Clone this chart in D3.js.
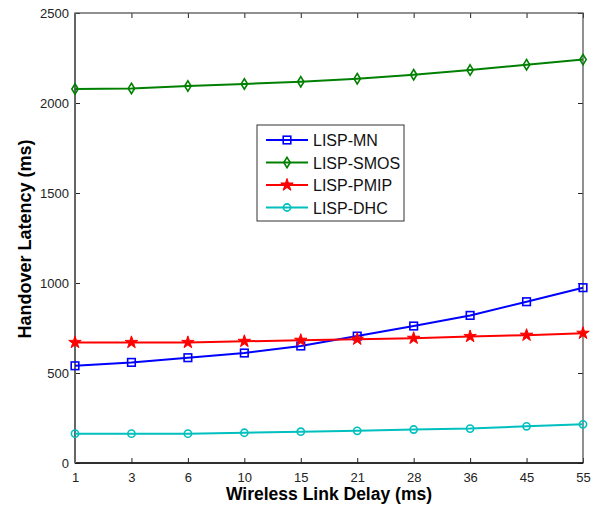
<!DOCTYPE html>
<html>
<head>
<meta charset="utf-8">
<script src="https://d3js.org/d3.v7.min.js"></script>
<style>
  body { margin: 0; background: #fff; }
  text { font-family: "Liberation Sans", Arial, sans-serif; }
</style>
</head>
<body>
<div id="chart"></div>
<script>
/** Valeurs */
var delays = ["1", "3", "6", "10", "15", "21", "28", "36", "45", "55"];
var lispMN = [540, 559, 585, 611, 650, 705, 761, 820, 896, 974];
var lispSMOS = [2078, 2081, 2094, 2106, 2118, 2135, 2157, 2183, 2213, 2241];
var lispPMIP = [670, 670, 670, 676, 682, 688, 693, 703, 710, 721];
var lispDHC = [163, 163, 163, 168, 174, 179, 186, 191, 204, 215];
var yTicks = [0, 500, 1000, 1500, 2000, 2500];

var series = [
  { name: "LISP-MN", values: lispMN, color: "#0000ff", marker: "square" },
  { name: "LISP-SMOS", values: lispSMOS, color: "#008000", marker: "diamond" },
  { name: "LISP-PMIP", values: lispPMIP, color: "#ff0000", marker: "star" },
  { name: "LISP-DHC", values: lispDHC, color: "#00bfbf", marker: "circle" }
];

var w = 611, h = 506;
var margin = { top: 13, right: 28, bottom: 43, left: 75 };
var iw = w - margin.left - margin.right;
var ih = h - margin.top - margin.bottom;

var svg = d3.select("#chart").append("svg").attr("width", w).attr("height", h);
var g = svg.append("g").attr("transform", "translate(" + margin.left + "," + margin.top + ")");

var x = d3.scalePoint().domain(delays).range([0, iw]);
var y = d3.scaleLinear().domain([0, 2500]).range([ih, 0]);

/** Axes, ticks vers l'intérieur comme MATLAB */
function styleAxis(sel) {
  sel.select(".domain").remove();
  sel.selectAll("line").attr("stroke", "#222").attr("stroke-width", 1);
  sel.selectAll("text").attr("font-size", "13px").attr("fill", "#222");
}
g.append("g").attr("transform", "translate(0," + ih + ")")
  .call(d3.axisBottom(x).tickSizeInner(-5).tickPadding(10))
  .call(styleAxis);
g.append("g").call(d3.axisTop(x).tickSizeInner(-5).tickFormat(""))
  .call(styleAxis);
g.append("g").call(d3.axisLeft(y).tickValues(yTicks).tickFormat(d3.format("d")).tickSizeInner(-5).tickPadding(6))
  .call(styleAxis);
g.append("g").attr("transform", "translate(" + iw + ",0)")
  .call(d3.axisRight(y).tickValues(yTicks).tickSizeInner(-5).tickFormat(""))
  .call(styleAxis);

// cadre
g.append("rect").attr("width", iw).attr("height", ih)
  .attr("fill", "none").attr("stroke", "#555").attr("stroke-width", 1.3);
g.append("line").attr("x1", 0).attr("x2", iw).attr("y1", ih).attr("y2", ih)
  .attr("stroke", "#111").attr("stroke-width", 1.5);
g.append("line").attr("x1", 0).attr("x2", 0).attr("y1", 0).attr("y2", ih)
  .attr("stroke", "#666").attr("stroke-width", 2);

/** Dessine un marqueur */
function drawMarker(sel, type, color) {
  if (type === "square") {
    sel.append("rect").attr("x", -3.8).attr("y", -3.8).attr("width", 7.6).attr("height", 7.6)
      .attr("fill", "none").attr("stroke", color).attr("stroke-width", 1.6);
  } else if (type === "diamond") {
    sel.append("path").attr("d", "M0,-5.2L3.2,0L0,5.2L-3.2,0Z")
      .attr("fill", "none").attr("stroke", color).attr("stroke-width", 1.6);
  } else if (type === "star") {
    sel.append("path").attr("d", d3.symbol().type(d3.symbolStar).size(48)())
      .attr("fill", color).attr("stroke", color).attr("stroke-width", 1);
  } else {
    sel.append("circle").attr("r", 3.6)
      .attr("fill", "none").attr("stroke", color).attr("stroke-width", 1.6);
  }
}

var line = d3.line().x(function (d, i) { return x(delays[i]); }).y(function (d) { return y(d); });

series.forEach(function (s) {
  g.append("path").datum(s.values).attr("d", line)
    .attr("fill", "none").attr("stroke", s.color).attr("stroke-width", 2);
  s.values.forEach(function (v, i) {
    var m = g.append("g").attr("transform", "translate(" + x(delays[i]) + "," + y(v) + ")");
    drawMarker(m, s.marker, s.color);
  });
});

/** Légende */
var lg = svg.append("g").attr("transform", "translate(257,125)");
lg.append("rect").attr("width", 147).attr("height", 96)
  .attr("fill", "#fff").attr("stroke", "#333").attr("stroke-width", 1);
series.forEach(function (s, i) {
  var row = lg.append("g").attr("transform", "translate(0," + (15 + i * 22.5) + ")");
  row.append("line").attr("x1", 9).attr("x2", 51).attr("stroke", s.color).attr("stroke-width", 2);
  var m = row.append("g").attr("transform", "translate(30,0)");
  drawMarker(m, s.marker, s.color);
  row.append("text").attr("x", 56).attr("y", 6).attr("font-size", "16px")
    .attr("fill", "#111").text(s.name);
});

// titres des axes
svg.append("text").attr("x", margin.left + iw / 2).attr("y", 500)
  .attr("text-anchor", "middle").attr("font-size", "17.5px").attr("font-weight", "bold")
  .text("Wireless Link Delay (ms)");
svg.append("text").attr("transform", "translate(31,239) rotate(-90)")
  .attr("text-anchor", "middle").attr("font-size", "18px").attr("font-weight", "bold")
  .text("Handover Latency (ms)");
</script>
</body>
</html>
